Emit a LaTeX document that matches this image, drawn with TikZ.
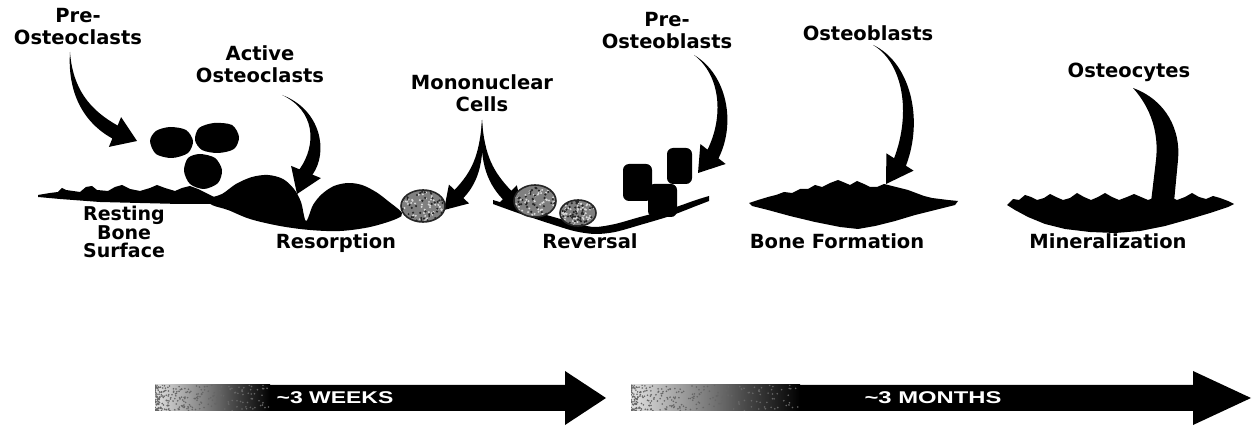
\documentclass[tikz,border=0pt]{standalone}
\usepackage{fontspec}
\setmainfont{DejaVu Sans}
\newfontfamily\arrowfont{Liberation Sans}
\usetikzlibrary{calc}

% tapered curved arrow: #1 start, #2 #3 controls, #4 head-base centre, #5 tip, #6 shaft half-width
\newcommand\taperarrow[6]{%
  \fill ($(#1)$) .. controls ($(#2)!#6*0.45!90:(#3)$) and ($(#3)!#6!90:(#4)$) .. ($(#4)!#6!90:(#5)$)
     -- ($(#4)!#6*2.3!90:(#5)$) -- (#5) -- ($(#4)!#6*2.3!-90:(#5)$) -- ($(#4)!#6!-90:(#5)$)
     .. controls ($(#3)!#6!-90:(#4)$) and ($(#2)!#6*0.45!-90:(#3)$) .. cycle;
}

% grey mottled cell: #1 centre, #2 x-radius, #3 y-radius
\newcommand\graycell[3]{%
  \fill[black!50] (#1) ellipse ({#2} and {#3});
  \begin{scope}
    \clip (#1) ellipse ({#2} and {#3});
    \foreach \k in {1,...,70}{
      \pgfmathsetmacro\dx{rand*#2}\pgfmathsetmacro\dy{rand*#3}
      \fill[white!85!black] ($(#1)+(\dx,\dy)$) circle (1.1);
    }
    \foreach \k in {1,...,50}{
      \pgfmathsetmacro\dx{rand*#2}\pgfmathsetmacro\dy{rand*#3}
      \fill[black!85] ($(#1)+(\dx,\dy)$) circle (1.2);
    }
  \end{scope}
  \draw[black!85, line width=1.6] (#1) ellipse ({#2} and {#3});
}

\begin{document}
\begin{tikzpicture}[x=1pt,y=-1pt,
  lbl/.style={font=\bfseries\fontsize{19.5}{22}\selectfont, align=center, inner sep=0, anchor=north},
  stack/.style={font=\bfseries\fontsize{19}{18.5}\selectfont, align=center, inner sep=0, anchor=north},
  timetext/.style={text=white, font=\arrowfont\bfseries\fontsize{17}{17}\selectfont, inner sep=0},
  bone/.style={fill=black},
  obcell/.style={fill=black, rounded corners=6pt}]

\useasboundingbox (0,0) rectangle (1253,435);
\pgfmathsetseed{4242}

% ---------- labels ----------
\node[lbl] (preoc)  at (78,8)    {Pre-\\Osteoclasts};
\node[lbl] (actoc)  at (260,45)  {Active\\Osteoclasts};
\node[lbl] (mono)   at (482,74)  {Mononuclear\\Cells};
\node[lbl] (preob)  at (667,12)  {Pre-\\Osteoblasts};
\node[lbl] (ob)     at (868,25)  {Osteoblasts};
\node[lbl] (ocy)    at (1129,63) {Osteocytes};

\node[stack] (rest) at (124,206) {Resting\\Bone\\Surface};
\node[lbl] (resorp) at (336,233) {Resorption};
\node[lbl] (rev)    at (590,233) {Reversal};
\node[lbl] (form)   at (837,233) {Bone Formation};
\node[lbl] (mine)   at (1108,233){Mineralization};

% ---------- curved pointer arrows ----------
\coordinate (a1) at (70,52);  \coordinate (a2) at (70,90);  \coordinate (a3) at (86,116);
\coordinate (a4) at (115,132); \coordinate (a5) at (137,141);
\taperarrow{a1}{a2}{a3}{a4}{a5}{7pt}

\coordinate (b1) at (282,95); \coordinate (b2) at (318,110); \coordinate (b3) at (323,148);
\coordinate (b4) at (306,172); \coordinate (b5) at (297,194);
\taperarrow{b1}{b2}{b3}{b4}{b5}{7pt}

\coordinate (m1) at (482,120);
\coordinate (ml2) at (482,157); \coordinate (ml3) at (476,176);
\coordinate (ml4) at (459,194); \coordinate (ml5) at (444,210);
\taperarrow{m1}{ml2}{ml3}{ml4}{ml5}{6pt}
\coordinate (mr2) at (482,157); \coordinate (mr3) at (489,176);
\coordinate (mr4) at (507,195); \coordinate (mr5) at (523,211);
\taperarrow{m1}{mr2}{mr3}{mr4}{mr5}{6pt}

\coordinate (p1) at (694,55); \coordinate (p2) at (724,75); \coordinate (p3) at (730,120);
\coordinate (p4) at (713,154); \coordinate (p5) at (698,173);
\taperarrow{p1}{p2}{p3}{p4}{p5}{7pt}

\coordinate (o1) at (873,45); \coordinate (o2) at (906,62); \coordinate (o3) at (918,115);
\coordinate (o4) at (900,162); \coordinate (o5) at (886,184);
\taperarrow{o1}{o2}{o3}{o4}{o5}{7pt}

% osteocyte horn rising out of the mineralised bone
\fill (1133,88) .. controls (1166,100) and (1181,130) .. (1178,160) -- (1174,202) -- (1151,202)
      -- (1156,160) .. controls (1159,133) and (1151,108) .. cycle;

% ---------- pre-osteoclasts ----------
\fill plot[smooth cycle] coordinates {(150,141) (156,131) (170,127) (186,130) (193,141) (188,153) (172,158) (156,154)};
\fill plot[smooth cycle] coordinates {(195,140) (199,128) (214,123) (232,125) (239,137) (234,149) (218,153) (202,150)};
\fill plot[smooth cycle] coordinates {(184,171) (188,158) (200,154) (215,158) (222,170) (218,183) (204,189) (190,184)};

% ---------- resting bone surface ----------
\fill[bone] (38,195) -- (50,193) -- (58,192) -- (62,188) -- (66,190) -- (80,192) -- (86,187) -- (92,186)
  -- (97,190) -- (108,191) -- (115,187) -- (122,185) -- (130,189) -- (140,191) -- (150,188) -- (157,185)
  -- (165,188) -- (175,191) -- (182,188) -- (190,186) -- (198,189) -- (206,193) -- (214,197)
  -- (214,204) -- (180,204) -- (140,203) -- (100,202) -- (60,199) -- (38,197) -- cycle;

% ---------- resorption pit with osteoclasts ----------
\fill[bone] plot[smooth cycle, tension=0.55] coordinates {(208,199) (222,194) (236,184) (252,177) (268,175)
  (283,179) (294,189) (301,202) (306,221) (313,205) (322,194) (334,186) (348,183) (362,185) (376,192)
  (388,201) (402,213) (396,219) (370,227) (340,231) (310,230) (280,226) (250,219) (228,210) (212,205)};
\graycell{423,206}{22}{16}

% ---------- reversal ----------
\fill[bone] plot[smooth, tension=0.5] coordinates {(493,200) (520,208) (550,216) (578,224) (595,227) (615,224)
  (640,217) (670,209) (696,200) (709,196)}
  -- plot[smooth, tension=0.5] coordinates {(709,201) (696,206) (670,216) (640,225) (615,232) (595,234)
  (574,231) (548,223) (518,213) (493,204)} -- cycle;
\graycell{535,201}{21}{16}
\graycell{578,213}{18}{13}

% pre-osteoblasts
\fill[obcell] (667,148) rectangle (692,184);
\fill[obcell] (623,164) rectangle (652,201);
\fill[obcell] (648,184) rectangle (677,217);

% ---------- bone formation ----------
\fill[bone] (749,203) -- (758,200) -- (768,197) -- (776,195) -- (784,192) -- (792,193) -- (800,189) -- (808,189)
  -- (815,185) -- (822,187) -- (830,183) -- (838,180) -- (843,182) -- (850,185) -- (857,181) -- (864,184)
  -- (870,187) -- (877,187) -- (884,184) -- (892,186) -- (900,188) -- (908,190) -- (916,193) -- (924,196)
  -- (932,198) -- (940,199) -- (948,200) -- (958,201) -- (955,205) -- (935,210) -- (915,215) -- (895,221)
  -- (875,226) -- (858,229) -- (840,227) -- (815,222) -- (790,216) -- (768,210) -- (752,206) -- cycle;

% ---------- mineralization ----------
\fill[bone] (1007,205) -- (1013,199) -- (1019,200) -- (1025,195) -- (1031,197) -- (1037,200) -- (1044,198)
  -- (1050,194) -- (1056,197) -- (1063,200) -- (1070,198) -- (1077,193) -- (1084,197) -- (1091,200)
  -- (1098,197) -- (1105,193) -- (1112,197) -- (1119,200) -- (1127,197) -- (1134,194) -- (1141,197)
  -- (1148,200) -- (1156,197) -- (1163,193) -- (1170,197) -- (1177,200) -- (1185,197) -- (1192,193)
  -- (1199,197) -- (1206,199) -- (1213,196) -- (1220,198) -- (1228,201) -- (1234,204)
  -- (1228,207) -- (1210,213) -- (1190,219) -- (1165,226) -- (1140,231) -- (1115,233) -- (1090,232)
  -- (1065,229) -- (1045,224) -- (1028,217) -- (1015,210) -- cycle;

% ---------- time arrows ----------
\fill (155,385) -- (565,385) -- (565,371) -- (606,398) -- (565,425) -- (565,411) -- (155,411) -- cycle;
\shade[left color=black!12, right color=black] (155,385) rectangle (270,411);
\fill (631,385) -- (1193,385) -- (1193,371) -- (1251,398) -- (1193,425) -- (1193,411) -- (631,411) -- cycle;
\shade[left color=black!12, right color=black] (631,385) rectangle (800,411);
\begin{scope}
  \clip (155,385) rectangle (270,411) (631,385) rectangle (800,411);
  \foreach \k in {1,...,260}{
    \pgfmathsetmacro\ux{rnd}\pgfmathsetmacro\uy{385+26*rnd}
    \fill[black!60] ({155+115*\ux*\ux},\uy) circle (0.9);
    \fill[black!60] ({631+169*\ux*\ux},\uy) circle (0.9);
  }
\end{scope}

\node[timetext] (weeks)  at (335,398) {\scalebox{1.35}[1]{\textasciitilde3 WEEKS}};
\node[timetext] (months) at (933,398) {\scalebox{1.4}[1]{\textasciitilde3 MONTHS}};

\end{tikzpicture}
\end{document}
